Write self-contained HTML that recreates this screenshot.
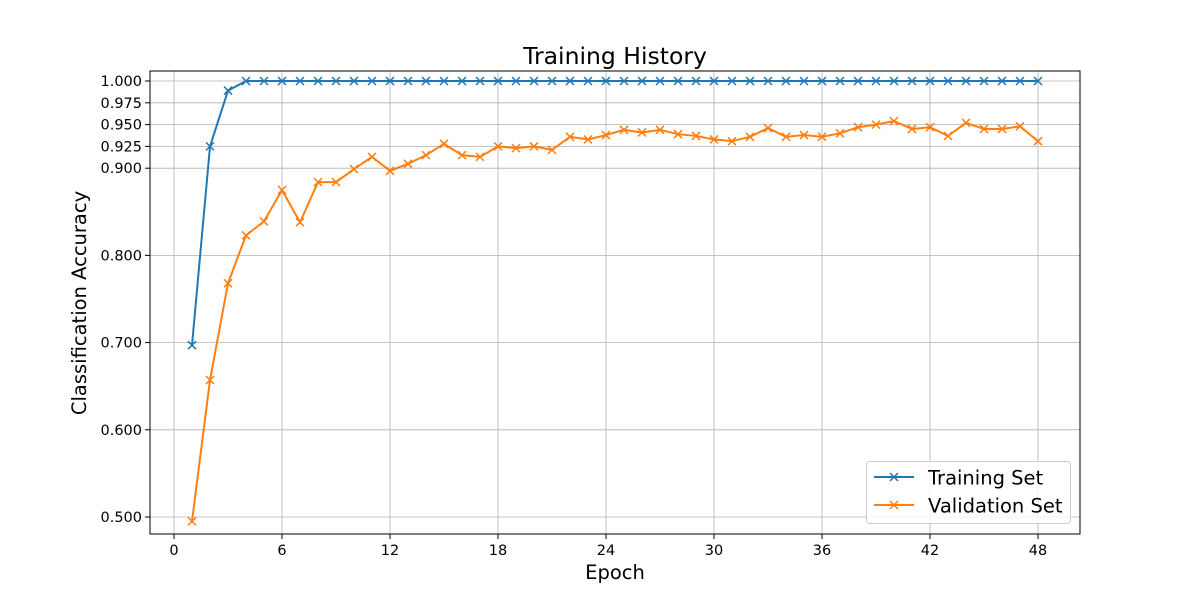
<!DOCTYPE html>
<html><head><meta charset="utf-8"><style>
body{margin:0;background:#fff;}
svg text{font-family:"DejaVu Sans","Liberation Sans",sans-serif;}
</style></head><body>
<svg id="chart" width="1200" height="600">
<rect width="1200" height="600" fill="#fff"/>
<text x="615" y="64" font-size="23.5" text-anchor="middle">Training History</text>
<g id="grid"></g>
<g id="axes"></g>
<g id="series"></g>
<text x="615" y="579" font-size="19.5" text-anchor="middle">Epoch</text>
<text transform="translate(86,303) rotate(-90)" font-size="19.5" text-anchor="middle">Classification Accuracy</text>
<g>
<rect x="866.5" y="461.5" width="204" height="62" rx="3" fill="#fff" stroke="#ccc" fill-opacity="0.8"/>
<line x1="874" y1="477" x2="914" y2="477" stroke="#1f77b4" stroke-width="2"/>
<path d="M890,473L898,481M890,481L898,473" stroke="#1f77b4" stroke-width="1.5"/>
<text x="928" y="484.5" font-size="19.5">Training Set</text>
<line x1="874" y1="505" x2="914" y2="505" stroke="#ff7f0e" stroke-width="2"/>
<path d="M890,501L898,509M890,509L898,501" stroke="#ff7f0e" stroke-width="1.5"/>
<text x="928" y="512.5" font-size="19.5">Validation Set</text>
</g>
</svg>
<script>
const epochs = Array.from({length:48},(_,i)=>i+1);
const trainAcc = [0.697,0.925,0.989,1,1,1,1,1,1,1,1,1,1,1,1,1,1,1,1,1,1,1,1,1,1,1,1,1,1,1,1,1,1,1,1,1,1,1,1,1,1,1,1,1,1,1,1,1];
const valAcc = [0.495,0.657,0.768,0.823,0.839,0.875,0.838,0.884,0.884,0.899,0.913,0.897,0.905,0.915,0.928,0.915,0.913,0.925,0.923,0.925,0.921,0.936,0.933,0.938,0.944,0.941,0.944,0.939,0.937,0.933,0.931,0.936,0.946,0.936,0.938,0.936,0.940,0.947,0.950,0.954,0.945,0.947,0.937,0.952,0.945,0.945,0.948,0.931];
const xTicks = [0,6,12,18,24,30,36,42,48];
const yTicks = [0.5,0.6,0.7,0.8,0.9,0.925,0.95,0.975,1.0];
const yLabels = ["0.500","0.600","0.700","0.800","0.900","0.925","0.950","0.975","1.000"];
const L=150,R=1080,T=71,B=534;
const xs=v=>174+v*18;
const ys=v=>81+(1-v)*872;
const NS="http://www.w3.org/2000/svg";
function mk(tag,attrs,parent){const e=document.createElementNS(NS,tag);for(const k in attrs)e.setAttribute(k,attrs[k]);parent.appendChild(e);return e;}
const grid=document.getElementById('grid'),axes=document.getElementById('axes'),series=document.getElementById('series');
xTicks.forEach(t=>{
  const g=mk('line',{x1:xs(t),x2:xs(t),y1:T,y2:B,stroke:'#b0b0b0','stroke-width':0.8},grid);
  
  
  mk('line',{x1:xs(t),x2:xs(t),y1:B,y2:B+5,stroke:'#000'},axes);
  const tx=mk('text',{x:xs(t),y:B+21,'font-size':14.5,'text-anchor':'middle'},axes);
  tx.textContent=t;
  
  
});
yTicks.forEach((t,i)=>{
  const g=mk('line',{x1:L,x2:R,y1:ys(t),y2:ys(t),stroke:'#b0b0b0','stroke-width':0.8},grid);
  
  
  mk('line',{x1:L-5,x2:L,y1:ys(t),y2:ys(t),stroke:'#000'},axes);
  const tx=mk('text',{x:L-8,y:ys(t)+5,'font-size':14.5,'text-anchor':'end'},axes);
  tx.textContent=yLabels[i];
  
  
});
const fr=mk('rect',{x:L,y:T,width:R-L,height:B-T,fill:'none',stroke:'#000','stroke-width':1},axes);


function drawSeries(vals,color,name){
  const pts=vals.map((v,i)=>xs(epochs[i])+','+ys(v)).join(' ');
  const pl=mk('polyline',{points:pts,fill:'none',stroke:color,'stroke-width':2},series);
  
  
  vals.forEach((v,i)=>{
    const x=xs(epochs[i]),y=ys(v),d=4;
    const p=mk('path',{d:`M${x-d},${y-d}L${x+d},${y+d}M${x-d},${y+d}L${x+d},${y-d}`,stroke:color,'stroke-width':1.5},series);
    
    
  });
}
drawSeries(trainAcc,'#1f77b4','training');
drawSeries(valAcc,'#ff7f0e','validation');
</script>
</body></html>
